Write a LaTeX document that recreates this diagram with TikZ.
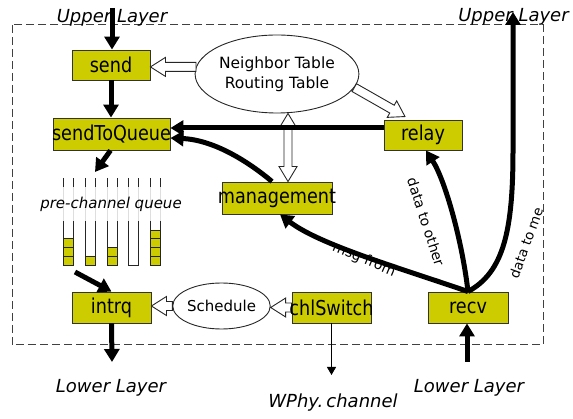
\documentclass[tikz,border=0pt]{standalone}
\usepackage{fontspec}
\setmainfont{DejaVu Sans}
\newfontfamily\boxfont[FakeStretch=0.86]{DejaVu Sans}
\usetikzlibrary{arrows.meta,shapes.geometric,calc}
\definecolor{boxfill}{RGB}{204,204,0}

% hollow (outlined) arrow from #1 to #2
\newcommand{\hollowarrow}[2]{%
  \path (#1) coordinate (hA) (#2) coordinate (hB);
  \path ($(hB)!15pt!(hA)$) coordinate (hM);
  \draw[hollow] ($(hA)!4.5pt!90:(hB)$) -- ($(hM)!4.5pt!-90:(hA)$) -- ($(hM)!9.5pt!-90:(hA)$)
    -- (hB) -- ($(hM)!9.5pt!90:(hA)$) -- ($(hM)!4.5pt!90:(hA)$) -- ($(hA)!4.5pt!-90:(hB)$) -- cycle;}
% hollow arrow with a head at both ends
\newcommand{\hollowdouble}[2]{%
  \path (#1) coordinate (hA) (#2) coordinate (hB);
  \path ($(hA)!15pt!(hB)$) coordinate (hN) ($(hB)!15pt!(hA)$) coordinate (hM);
  \draw[hollow] (hA) -- ($(hN)!9pt!90:(hB)$) -- ($(hN)!4pt!90:(hB)$) -- ($(hM)!4pt!-90:(hA)$)
    -- ($(hM)!9pt!-90:(hA)$) -- (hB) -- ($(hM)!9pt!90:(hA)$) -- ($(hM)!4pt!90:(hA)$)
    -- ($(hN)!4pt!-90:(hB)$) -- ($(hN)!9pt!-90:(hB)$) -- cycle;}

\begin{document}
\begin{tikzpicture}[x=1pt,y=-1pt,
  unit/.style={draw=black!80, line width=0.9pt, fill=boxfill, inner sep=0pt,
    font=\boxfont\fontsize{20.5}{20.5}\selectfont},
  table/.style={ellipse, draw=black!85, line width=0.9pt, fill=white, inner sep=0pt,
    align=center},
  flow/.style={line width=5pt, -{Triangle[length=13pt,width=15pt]}},
  thinflow/.style={line width=1pt, -{Triangle[length=8pt,width=9pt]}},
  hollow/.style={draw=black!85, line width=0.9pt, fill=white, line join=miter},
  layer/.style={font=\itshape\fontsize{18}{18}\selectfont, inner sep=0pt, anchor=base},
  tag/.style={font=\fontsize{14}{14}\selectfont, inner sep=0pt},
  cell/.style={draw=black!85, line width=0.8pt, fill=boxfill}]

\useasboundingbox (0,0) rectangle (573,419);

% node boundary
\draw[black!75, line width=1pt, dash pattern=on 8pt off 4pt] (12,25) rectangle (543,345);

% layer labels
\node[layer] (upL) at (112,23) {Upper Layer};
\node[layer] (upR) at (513.5,22) {Upper Layer};
\node[layer] (loL) at (111,393) {Lower Layer};
\node[layer] (loR) at (469,392) {Lower Layer};
\node[layer] (phy) at (333,407) {WPhy.\,channel};

% tables and scheduler
\node[table, minimum width=138, minimum height=78, font=\fontsize{15.5}{20}\selectfont]
  (ntab) at (277,74) {Neighbor Table\\Routing Table};
\node[table, minimum width=87, minimum height=46, font=\fontsize{15}{15}\selectfont]
  (sched) at (221.5,306) {Schedule};

% processing blocks
\node[unit, minimum width=78, minimum height=30] (send) at (111,65) {send};
\node[unit, minimum width=117, minimum height=32] (stq) at (111.5,134) {\makebox[0pt]{sendToQueue}};
\node[unit, minimum width=78, minimum height=30] (relay) at (423,135) {relay};
\node[unit, minimum width=110, minimum height=32] (mgmt) at (277,198) {\makebox[0pt]{management}};
\node[unit, minimum width=79, minimum height=31] (intrq) at (111.5,307.5) {intrq};
\node[unit, minimum width=79, minimum height=31] (chl) at (331.5,307.5) {\makebox[0pt]{chlSwitch}};
\node[unit, minimum width=80, minimum height=31] (recv) at (468,307.5) {recv};

% table look-ups and scheduling
\hollowarrow{ntab.175}{ntab.175 -| send.east}
\hollowarrow{ntab.-10}{[xshift=-18pt,yshift=3pt]relay.north}
\hollowdouble{[xshift=11pt]ntab.south}{[xshift=11pt]mgmt.north}
\hollowarrow{sched.west}{sched.west -| intrq.east}
\hollowarrow{chl.west}{chl.west -| sched.east}
\node[unit, minimum width=79, minimum height=31] at (chl) {\makebox[0pt]{chlSwitch}};

% per-channel queues
\foreach \x/\n in {63/3,85/1,107/2,128/0,150/4}{
  \draw[black!85, line width=0.8pt] (\x,178) -- (\x,265) -- ({\x+10},265) -- ({\x+10},178);
  \ifnum\n>0
    \foreach \k in {1,...,\n}{
      \draw[cell] (\x,{265-\k*8.7}) rectangle ({\x+10},{265-(\k-1)*8.7});
    }
  \fi
}
\node[fill=white, fill opacity=0.85, text opacity=1, inner sep=0pt, minimum height=34,
  font=\itshape\fontsize{15}{15}\selectfont] (pcq) at (111,204) {pre-channel queue};
\coordinate (qin) at (95,172);
\coordinate (qout) at (75,272);

% layer hand-offs
\coordinate (upin) at (112,8);
\coordinate (upout) at (513,12);
\coordinate (lowout) at (112,362);
\coordinate (lowin) at (467,362);
\coordinate (wire) at (331.5,375);

% labels under the message path
\node[tag, rotate=-23] (msg) at (364,260) {msg from};

% data paths
\draw[flow] (upin) -- (upin |- send.north);
\draw[flow] (send) -- (send |- stq.north);
\draw[flow] ([yshift=6pt]stq.east -| relay.west) -- ([yshift=6pt]stq.east);
\draw[flow] ([xshift=-5pt]mgmt.north) .. controls (250,163) and (215,140) .. ([yshift=-4pt]stq.east);
\draw[flow] ([xshift=-1pt]stq.south) -- (qin);
\draw[flow] (qout) -- (intrq.north);
\draw[flow] (intrq.south) -- (lowout);
\draw[thinflow] (chl.south) -- (wire);
\draw[flow] (lowin) -- (lowin |- recv.south);
\draw[flow] (recv.north) .. controls (400,268) and (320,245) .. ([xshift=3pt]mgmt.south);
\draw[flow] (recv.north) .. controls (462,240) and (445,180) .. ([xshift=3pt]relay.south);
\draw[flow] (recv.north) .. controls (504,272) and (513,230) .. (513,150) -- (upout);

% path labels
\node[tag, rotate=-72] (toother) at (426,222) {data to other};
\node[tag, rotate=70, font=\fontsize{13.5}{13.5}\selectfont] (tome) at (526,243) {data to me};
\end{tikzpicture}
\end{document}
